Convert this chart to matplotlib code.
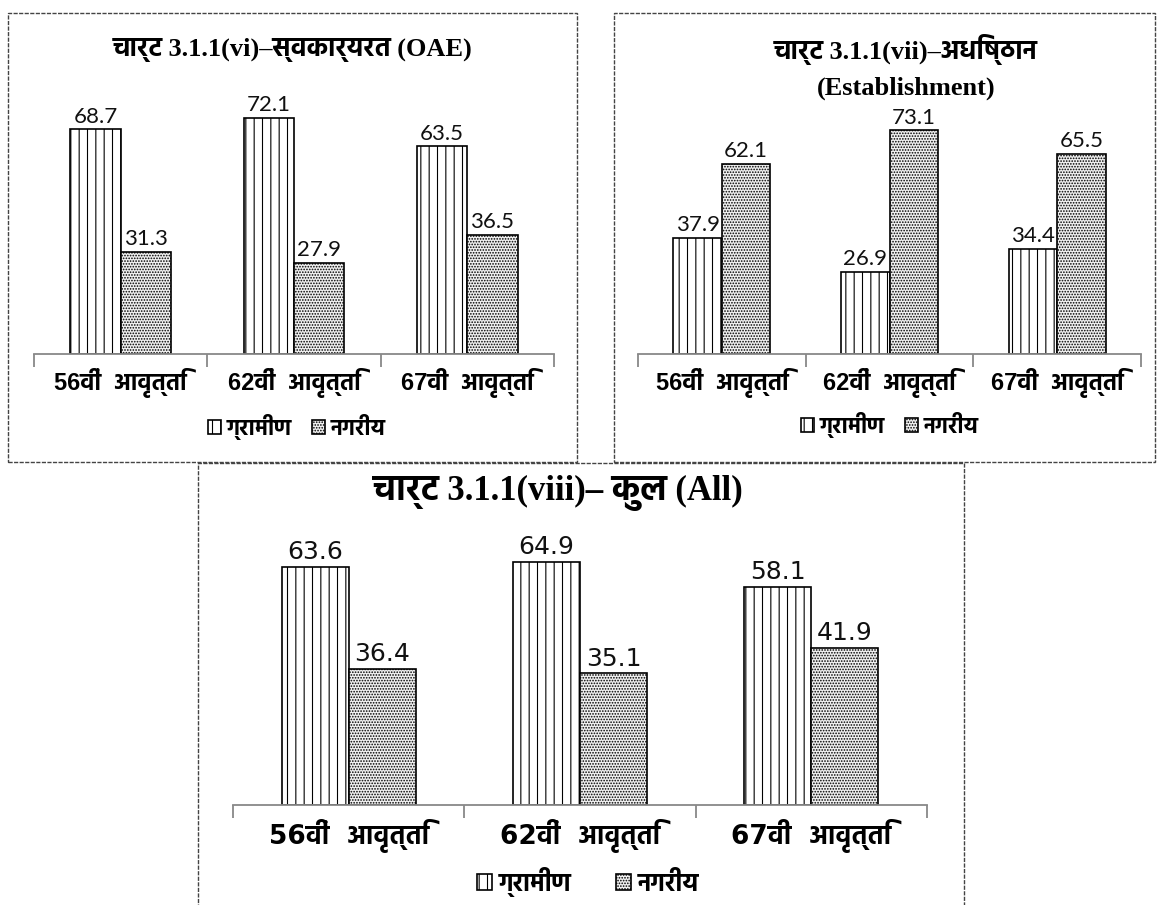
import matplotlib
matplotlib.use("Agg")
import matplotlib.pyplot as plt
from matplotlib.patches import Rectangle
import numpy as np

# data
categories = ["56वीं  आवृत्ति", "62वीं  आवृत्ति", "67वी  आवृत्ति"]
series_names = ["ग्रामीण", "नगरीय"]

oae_rural = [68.7, 72.1, 63.5]
oae_urban = [31.3, 27.9, 36.5]

est_rural = [37.9, 26.9, 34.4]
est_urban = [62.1, 73.1, 65.5]

all_rural = [63.6, 64.9, 58.1]
all_urban = [36.4, 35.1, 41.9]

title_oae = "चार्ट 3.1.1(vi)–स्वकार्यरत (OAE)"
title_est = "चार्ट 3.1.1(vii)–अधिष्ठान\n(Establishment)"
title_all = "चार्ट 3.1.1(viii)– कुल (All)"

W, H = 1157, 905
plt.rcParams['hatch.linewidth'] = 0.8

fig = plt.figure(figsize=(W / 100, H / 100), dpi=100)


def fx(x):
    return x / W


def fy(y):
    return 1 - y / H


def ax_rect(x0, x1, base, top):
    return [x0 / W, 1 - base / H, (x1 - x0) / W, (base - top) / H]


def panel_border(x0, y0, x1, y1):
    r = Rectangle((fx(x0), fy(y1)), (x1 - x0) / W, (y1 - y0) / H,
                  transform=fig.transFigure, fill=False, edgecolor='#444444',
                  linewidth=1.0, linestyle=(0, (3, 1)))
    fig.patches.append(r)


def draw_panel(rect, rural, urban, ymax, num_font, num_size, lab_font, lab_size, lab_pad):
    ax = fig.add_axes(rect)
    x = np.arange(len(categories))
    w = 0.29
    b1 = ax.bar(x - w / 2, rural, w, color='white', edgecolor='black',
                linewidth=1.2, hatch='||', label=series_names[0])
    b2 = ax.bar(x + w / 2, urban, w, color='#f0f0f0', edgecolor='black',
                linewidth=1.2, hatch='......', label=series_names[1])
    for bars, vals in ((b1, rural), (b2, urban)):
        for bar, v in zip(bars, vals):
            ax.annotate(f"{v:.1f}", (bar.get_x() + bar.get_width() / 2, v),
                        xytext=(0, 2), textcoords='offset points',
                        ha='center', va='bottom', family=num_font,
                        fontsize=num_size, color='#111111')
    ax.set_xlim(-0.5, len(categories) - 0.5)
    ax.set_ylim(0, ymax)
    for s in ('left', 'right', 'top'):
        ax.spines[s].set_visible(False)
    ax.spines['bottom'].set_color('#888888')
    ax.spines['bottom'].set_linewidth(1.3)
    ax.set_yticks([])
    ax.set_xticks(x)
    ax.set_xticklabels(categories, family=lab_font, fontsize=lab_size,
                       fontweight='bold')
    ax.tick_params(axis='x', which='major', length=0, pad=lab_pad)
    ax.set_xticks(np.arange(-0.5, len(categories)), minor=True)
    ax.tick_params(axis='x', which='minor', length=9, width=1.3,
                   color='#888888', direction='out')
    ax.patch.set_alpha(0)
    return ax


narrow = ['Liberation Sans Narrow', 'Liberation Sans', 'Hind', 'FreeSans']
wide = ['DejaVu Sans', 'Hind', 'FreeSans']
title_fam = ['Liberation Serif', 'Hind', 'FreeSerif']

# panel 1 - OAE
panel_border(8, 13, 577, 462)
ax1 = draw_panel(ax_rect(34, 554, 354, 354 - 3.27 * 80), oae_rural, oae_urban,
                 80, 'Lato', 16, narrow, 17, 10)
fig.text(fx(293), fy(50), title_oae, ha='center', va='center',
         family=title_fam, fontsize=19, fontweight='bold')
ax1.legend(loc='center', bbox_to_anchor=(fx(297), fy(427)),
           bbox_transform=fig.transFigure, ncol=2, frameon=False,
           handlelength=0.6, handleheight=0.6, handletextpad=0.25,
           columnspacing=0.9, prop={'family': narrow, 'size': 16, 'weight': 'bold'})

# panel 2 - Establishment
panel_border(614, 13, 1155, 462)
ax2 = draw_panel(ax_rect(638, 1141, 354, 354 - 3.06 * 80), est_rural, est_urban,
                 80, 'Lato', 16, narrow, 17, 10)
fig.text(fx(906), fy(67), title_est, ha='center', va='center',
         family=title_fam, fontsize=19, fontweight='bold', linespacing=1.6)
ax2.legend(loc='center', bbox_to_anchor=(fx(890), fy(425)),
           bbox_transform=fig.transFigure, ncol=2, frameon=False,
           handlelength=0.6, handleheight=0.6, handletextpad=0.25,
           columnspacing=0.9, prop={'family': narrow, 'size': 16, 'weight': 'bold'})

# panel 3 - All
panel_border(198, 463, 964, 920)
ax3 = draw_panel(ax_rect(233, 927, 805, 805 - 3.75 * 75), all_rural, all_urban,
                 75, 'DejaVu Sans', 18, wide, 19, 10)
fig.text(fx(558), fy(493), title_all, ha='center', va='center',
         family=title_fam, fontsize=25, fontweight='bold')
ax3.legend(loc='center', bbox_to_anchor=(fx(588), fy(882)),
           bbox_transform=fig.transFigure, ncol=2, frameon=False,
           handlelength=0.6, handleheight=0.6, handletextpad=0.25,
           columnspacing=1.8, prop={'family': wide, 'size': 18, 'weight': 'bold'})

fig.savefig("out.png", dpi=100, facecolor='white')
